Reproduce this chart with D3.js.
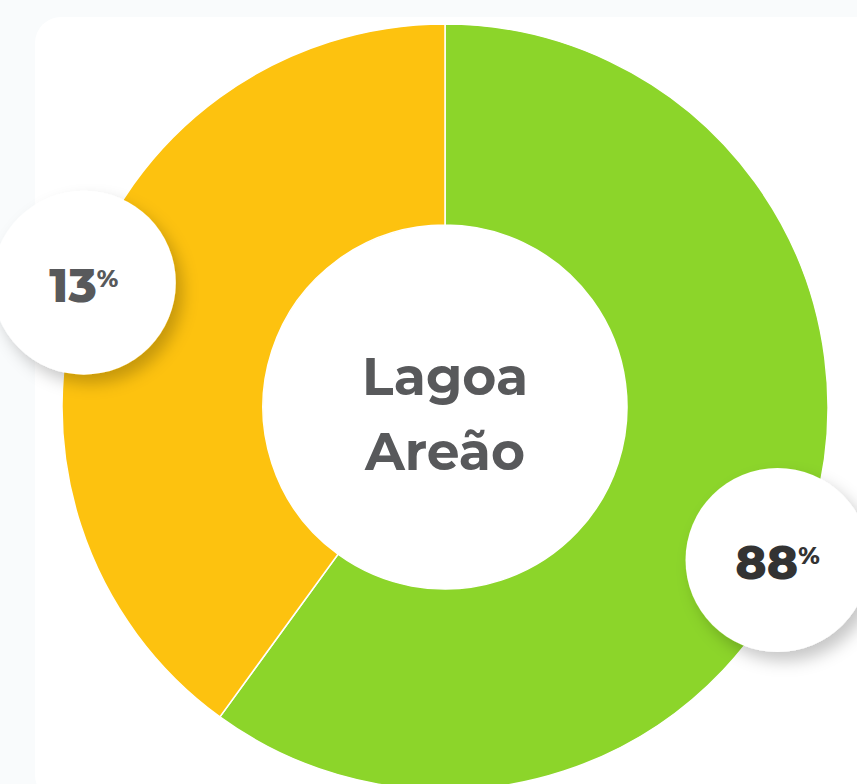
<!DOCTYPE html>
<html><head><meta charset="utf-8">
<script src="https://cdn.jsdelivr.net/npm/d3@7"></script>
<style>
html,body{margin:0;padding:0;background:#f9fbfc;}
svg{display:block;}
</style></head>
<body>
<svg id="chart" width="857" height="784"></svg>
<script>
// ---- data ----
const categories = ["Verde", "Amarelo"];
const sliceShares = [60, 40];
const labelValues = [88, 13];
const colors = ["#8cd52a", "#fdc20f"];
const centerTitle = ["Lagoa", "Areão"];

// ---- layout ----
const W = 857, H = 784;
const cx = 445, cy = 407, outerR = 383, innerR = 182;
const labelR = 92;
const labelPlacement = [{angle: 114.7, r: 366}, {angle: 289, r: 382}];
const labelColors = ["#333333", "#58595b"];

const svg = d3.select("#chart");
const defs = svg.append("defs");
const f = defs.append("filter").attr("id","sh").attr("x","-50%").attr("y","-50%").attr("width","200%").attr("height","200%");
f.append("feDropShadow").attr("dx",7).attr("dy",9).attr("stdDeviation",8).attr("flood-color","#000").attr("flood-opacity",0.22);

svg.append("rect").attr("x",35).attr("y",17).attr("width",W).attr("height",H).attr("rx",26).attr("fill","#ffffff");

const g = svg.append("g").attr("transform",`translate(${cx},${cy})`);
const pie = d3.pie().sort(null).value(d=>d.v);
const arcs = pie(categories.map((c,i)=>({c, v: sliceShares[i], i})));
const arc = d3.arc().innerRadius(innerR).outerRadius(outerR);

g.selectAll("path.slice").data(arcs).join("path")
  .attr("class","slice")
  .attr("d",arc)
  .attr("fill",d=>colors[d.data.i])
  .attr("stroke","#ffffff").attr("stroke-width",1.5);

const font = "Montserrat, 'Open Sans', 'DejaVu Sans', sans-serif";

const ct = g.append("text").attr("text-anchor","middle").attr("font-family",font).attr("font-weight",700)
  .attr("font-size",52).attr("fill","#58595b");
ct.append("tspan").attr("x",0).attr("y",395-cy).text(centerTitle[0]);
ct.append("tspan").attr("x",0).attr("y",470-cy).text(centerTitle[1]);

const lab = g.selectAll("g.lab").data(arcs).join("g").attr("class","lab")
  .attr("transform",(d,i)=>{
    const a = labelPlacement[i].angle*Math.PI/180, r = labelPlacement[i].r;
    return `translate(${r*Math.sin(a)},${-r*Math.cos(a)})`;
  });
lab.append("circle").attr("r",labelR).attr("fill","#fff").attr("filter","url(#sh)");
const lt = lab.append("text").attr("text-anchor","middle").attr("font-family",font).attr("font-weight",800)
  .attr("y",19).attr("fill",(d,i)=>labelColors[i]);
lt.append("tspan").attr("font-size",47).text(d=>labelValues[d.data.i]);
lt.append("tspan").attr("font-size",24).attr("dy",-15).text("%");
</script>
</body></html>
